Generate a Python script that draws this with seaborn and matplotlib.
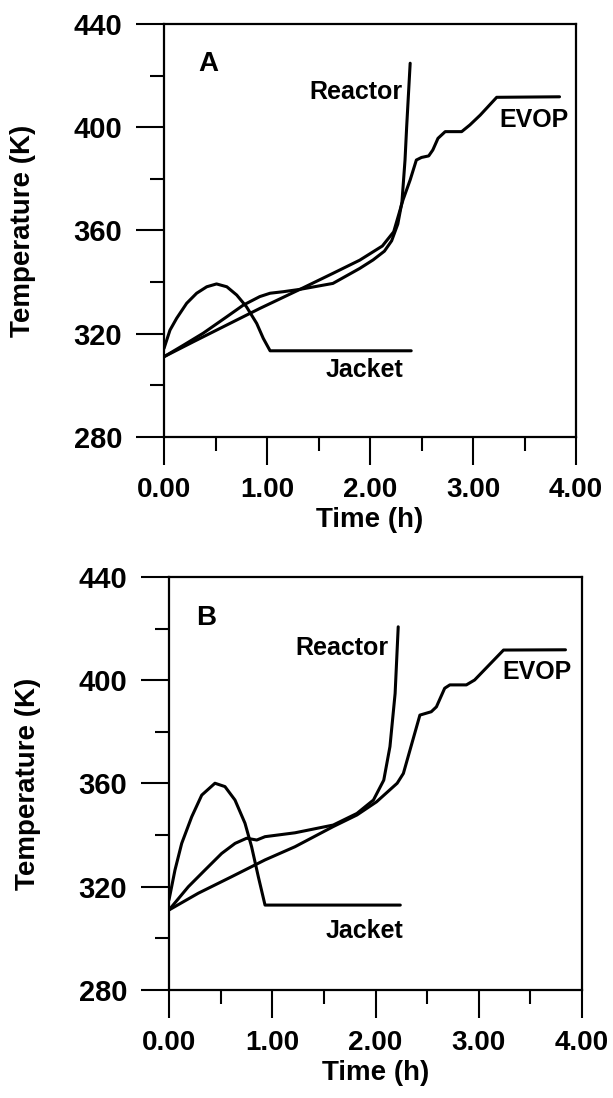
import numpy as np
import pandas as pd
import matplotlib
matplotlib.use("Agg")
import matplotlib.pyplot as plt
import seaborn as sns
from matplotlib.ticker import MultipleLocator, FormatStrFormatter

# ---------------- data ----------------
# Panel A
a_jacket_t = [0.00, 0.058, 0.123, 0.22, 0.317, 0.415, 0.51, 0.61, 0.706, 0.80, 0.90, 0.964, 1.03, 2.40]
a_jacket_T = [314.3, 321.4, 326.0, 331.8, 335.7, 338.2, 339.3, 338.2, 335.0, 330.5, 324.0, 318.2, 313.4, 313.4]

a_reactor_t = [0.00, 0.19, 0.38, 0.61, 0.77, 0.93, 1.03, 1.16, 1.32, 1.64, 1.90, 2.03, 2.14, 2.21, 2.27, 2.31, 2.34, 2.356, 2.39]
a_reactor_T = [311.1, 315.6, 320.2, 326.6, 331.1, 334.4, 335.7, 336.3, 337.2, 339.5, 345.3, 348.6, 352.0, 356.0, 362.5, 371.0, 387.3, 400.2, 424.8]

a_evop_t = [0.00, 0.285, 0.61, 0.93, 1.32, 1.64, 1.90, 2.12, 2.23, 2.32, 2.39, 2.45, 2.50, 2.57, 2.61, 2.66, 2.73, 2.89, 2.97, 3.07, 3.23, 3.84]
a_evop_T = [311.1, 316.9, 323.4, 329.8, 337.2, 343.4, 348.5, 354.0, 359.5, 371.8, 379.6, 387.3, 388.3, 388.9, 391.2, 395.7, 398.3, 398.3, 400.9, 404.7, 411.6, 411.8]

# Panel B
b_jacket_t = [0.00, 0.058, 0.123, 0.22, 0.317, 0.445, 0.542, 0.639, 0.736, 0.80, 0.865, 0.93, 2.24]
b_jacket_T = [314.9, 326.5, 336.8, 347.1, 355.5, 360.1, 358.8, 353.6, 344.6, 335.5, 323.9, 312.9, 312.9]

b_reactor_t = [0.00, 0.187, 0.349, 0.51, 0.64, 0.752, 0.85, 0.93, 1.22, 1.59, 1.82, 1.98, 2.08, 2.14, 2.19, 2.22]
b_reactor_T = [311.0, 320.0, 326.5, 332.9, 336.8, 338.8, 338.1, 339.4, 340.9, 343.9, 348.4, 353.6, 361.3, 374.3, 394.9, 420.7]

b_evop_t = [0.00, 0.284, 0.607, 0.93, 1.22, 1.59, 1.82, 2.01, 2.21, 2.27, 2.43, 2.54, 2.59, 2.67, 2.72, 2.88, 2.96, 3.24, 3.84]
b_evop_T = [311.0, 317.5, 323.9, 330.4, 335.5, 343.3, 347.8, 352.9, 360.1, 363.9, 386.5, 387.8, 389.7, 396.9, 398.2, 398.2, 400.1, 411.7, 411.8]

x_ticks = [0, 1, 2, 3, 4]
y_ticks = [280, 320, 360, 400, 440]
series_names = ["Jacket", "Reactor", "EVOP"]
panel_letters = ["A", "B"]
x_label = "Time (h)"
y_label = "Temperature (K)"

# ---------------- style ----------------
sns.set_style("ticks")
plt.rcParams["font.family"] = ["Liberation Sans", "DejaVu Sans"]
plt.rcParams["font.weight"] = "bold"
plt.rcParams["axes.labelweight"] = "bold"
plt.rcParams["text.color"] = "black"
plt.rcParams["axes.labelcolor"] = "black"
plt.rcParams["xtick.color"] = "black"
plt.rcParams["ytick.color"] = "black"
plt.rcParams["axes.edgecolor"] = "black"

fig = plt.figure(figsize=(6.13, 10.98), dpi=100)
axA = fig.add_axes([164/613, 1-437/1098, 412/613, 413/1098])
axB = fig.add_axes([169/613, 1-990/1098, 413/613, 413/1098])


def make_df(jt, jT, rt, rT, et, eT):
    parts = []
    for name, t, T in zip(series_names, [jt, rt, et], [jT, rT, eT]):
        parts.append(pd.DataFrame({"time": t, "temp": T, "series": name}))
    return pd.concat(parts, ignore_index=True)


def style_axes(ax):
    ax.set_xlim(0, 4)
    ax.set_ylim(280, 440)
    ax.set_xticks(x_ticks)
    ax.set_yticks(y_ticks)
    ax.xaxis.set_minor_locator(MultipleLocator(0.5))
    ax.yaxis.set_minor_locator(MultipleLocator(20))
    ax.xaxis.set_major_formatter(FormatStrFormatter("%.2f"))
    ax.tick_params(which="major", direction="out", length=20, width=1.5,
                   labelsize=21, color="black", labelcolor="black")
    ax.tick_params(axis="x", which="major", pad=9, labelsize=20)
    ax.tick_params(axis="y", which="major", pad=10)
    ax.tick_params(which="minor", direction="out", length=10, width=1.5, color="black")
    for lab in ax.get_xticklabels() + ax.get_yticklabels():
        lab.set_fontweight("bold")
    for sp in ax.spines.values():
        sp.set_visible(True)
        sp.set_linewidth(1.6)
        sp.set_color("black")
    ax.set_xlabel(x_label, fontsize=20, fontweight="bold", color="black")
    ax.set_ylabel(y_label, fontsize=20, fontweight="bold", color="black")
    ax.xaxis.set_label_coords(0.5, -0.2)
    ax.yaxis.set_label_coords(-0.342, 0.5)
    ax.xaxis.label.set_va("center")
    ax.yaxis.label.set_va("center")


dfA = make_df(a_jacket_t, a_jacket_T, a_reactor_t, a_reactor_T, a_evop_t, a_evop_T)
dfB = make_df(b_jacket_t, b_jacket_T, b_reactor_t, b_reactor_T, b_evop_t, b_evop_T)

for ax, df in [(axA, dfA), (axB, dfB)]:
    sns.lineplot(data=df, x="time", y="temp", units="series", estimator=None,
                 sort=False, color="black", linewidth=2.2, ax=ax)
    for ln in ax.lines:
        ln.set_solid_joinstyle("round")
    style_axes(ax)

lab_fs = 18
# Panel A annotations
axA.text(0.43, 424.5, panel_letters[0], fontsize=20, fontweight="bold", ha="center", va="center")
axA.text(2.32, 413.8, "Reactor", fontsize=lab_fs, fontweight="bold", ha="right", va="center")
axA.text(3.26, 402.8, "EVOP", fontsize=lab_fs, fontweight="bold", ha="left", va="center")
axA.text(2.32, 305.9, "Jacket", fontsize=lab_fs, fontweight="bold", ha="right", va="center")
# Panel B annotations
axB.text(0.36, 424.3, panel_letters[1], fontsize=20, fontweight="bold", ha="center", va="center")
axB.text(2.13, 412.4, "Reactor", fontsize=lab_fs, fontweight="bold", ha="right", va="center")
axB.text(3.23, 403.3, "EVOP", fontsize=lab_fs, fontweight="bold", ha="left", va="center")
axB.text(2.27, 303.0, "Jacket", fontsize=lab_fs, fontweight="bold", ha="right", va="center")

fig.savefig("out.png", dpi=100)
